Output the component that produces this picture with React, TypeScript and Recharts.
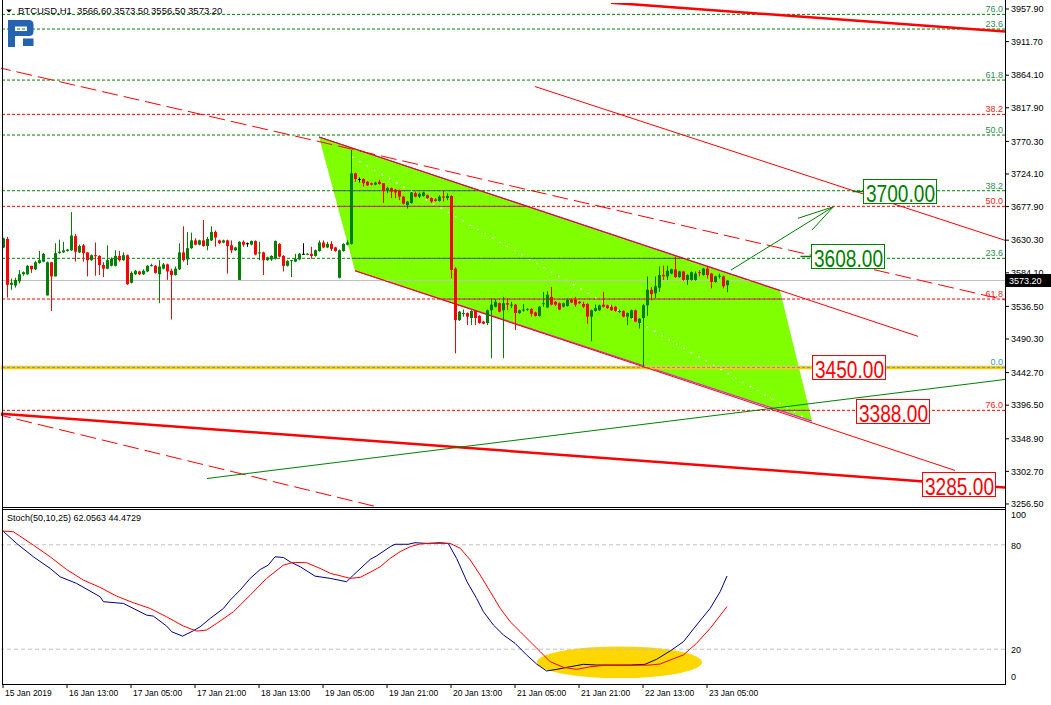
import React from 'react';
import { ComposedChart, Bar, Line, XAxis, YAxis, ReferenceLine, ReferenceArea, ReferenceDot } from 'recharts';

const FONT = '"Liberation Sans", Arial, sans-serif';

// BTCUSD H1, bar 0 = 15 Jan 21:00 ... bar 181 = 23 Jan 10:00
const opens = [
  3620, 3632, 3567, 3566, 3572, 3582, 3582, 3594, 3589, 3598,
  3600, 3552, 3599, 3579, 3612, 3613, 3615, 3616, 3636, 3613,
  3623, 3613, 3602, 3609, 3608, 3595, 3590, 3594, 3594, 3608,
  3602, 3609, 3570, 3582, 3586, 3582, 3586, 3594, 3594, 3582,
  3590, 3596, 3587, 3581, 3589, 3613, 3603, 3619, 3630, 3624,
  3630, 3622, 3630, 3642, 3630, 3627, 3630, 3623, 3616, 3574,
  3628, 3626, 3624, 3629, 3612, 3613, 3602, 3603, 3604, 3625,
  3608, 3594, 3601, 3600, 3603, 3611, 3610, 3611, 3608, 3615,
  3627, 3620, 3625, 3620, 3577, 3615, 3624, 3625, 3725, 3717,
  3717, 3713, 3711, 3709, 3713, 3711, 3701, 3704, 3702, 3701,
  3692, 3680, 3683, 3697, 3692, 3693, 3694, 3690, 3688, 3686,
  3692, 3690, 3693, 3590, 3517, 3526, 3527, 3520, 3530, 3523,
  3515, 3513, 3531, 3536, 3541, 3531, 3541, 3538, 3539, 3527,
  3531, 3532, 3533, 3528, 3523, 3540, 3535, 3550, 3543, 3541,
  3536, 3537, 3546, 3546, 3543, 3540, 3540, 3522, 3530, 3531,
  3539, 3538, 3536, 3536, 3529, 3530, 3522, 3520, 3531, 3513,
  3520, 3538, 3560, 3555, 3563, 3581, 3579, 3583, 3589, 3578,
  3586, 3574, 3574, 3574, 3585, 3581, 3590, 3583, 3571, 3579,
  3579, 3566.6,
];
const highs = [
  3634, 3635, 3576, 3577, 3588, 3586, 3595, 3594, 3601, 3615,
  3612, 3600, 3599, 3626, 3631, 3628, 3618, 3670, 3639, 3624,
  3625, 3613, 3610, 3627, 3609, 3599, 3623, 3606, 3616, 3615,
  3613, 3610, 3586, 3588, 3587, 3589, 3595, 3597, 3595, 3602,
  3598, 3597, 3590, 3593, 3626, 3650, 3642, 3641, 3633, 3631,
  3659, 3635, 3650, 3644, 3631, 3631, 3631, 3630, 3621, 3629,
  3630, 3627, 3630, 3630, 3628, 3614, 3607, 3609, 3630, 3626,
  3609, 3602, 3602, 3611, 3612, 3626, 3612, 3621, 3617, 3630,
  3630, 3628, 3629, 3621, 3617, 3626, 3630, 3758, 3726, 3719,
  3718, 3714, 3712, 3713, 3716, 3711, 3706, 3705, 3703, 3702,
  3693, 3686, 3699, 3699, 3698, 3699, 3695, 3691, 3690, 3694,
  3700, 3697, 3694, 3592, 3530, 3532, 3528, 3531, 3531, 3524,
  3516, 3532, 3548, 3547, 3542, 3550, 3548, 3543, 3540, 3532,
  3540, 3534, 3534, 3529, 3537, 3557, 3558, 3564, 3544, 3542,
  3542, 3548, 3548, 3550, 3544, 3543, 3541, 3532, 3539, 3539,
  3557, 3539, 3539, 3537, 3532, 3531, 3528, 3532, 3532, 3520,
  3540, 3579, 3564, 3579, 3593, 3594, 3594, 3590, 3607, 3587,
  3587, 3582, 3586, 3586, 3588, 3591, 3593, 3584, 3580, 3583,
  3580, 3573.5,
];
const lows = [
  3619, 3549, 3560, 3563, 3569, 3580, 3581, 3584, 3588, 3597,
  3599, 3552, 3530, 3579, 3611, 3612, 3614, 3615, 3600, 3612,
  3600, 3579, 3601, 3580, 3581, 3578, 3589, 3593, 3593, 3600,
  3601, 3567, 3569, 3581, 3581, 3581, 3585, 3593, 3583, 3541,
  3589, 3574, 3518, 3580, 3588, 3600, 3595, 3618, 3623, 3623,
  3621, 3616, 3629, 3621, 3625, 3626, 3583, 3612, 3615, 3574,
  3621, 3621, 3623, 3609, 3602, 3581, 3601, 3601, 3603, 3606,
  3586, 3593, 3578, 3599, 3602, 3610, 3609, 3604, 3607, 3614,
  3619, 3619, 3615, 3614, 3576, 3614, 3623, 3624, 3713, 3712,
  3706, 3707, 3708, 3708, 3709, 3683, 3697, 3690, 3690, 3687,
  3681, 3675, 3682, 3691, 3690, 3692, 3689, 3683, 3685, 3685,
  3685, 3687, 3576, 3470, 3516, 3522, 3510, 3510, 3510, 3512,
  3511, 3510, 3463, 3535, 3528, 3463, 3531, 3534, 3503, 3526,
  3529, 3530, 3522, 3522, 3522, 3536, 3534, 3538, 3537, 3531,
  3535, 3536, 3541, 3536, 3540, 3534, 3512, 3487, 3529, 3530,
  3535, 3533, 3530, 3529, 3527, 3521, 3510, 3519, 3514, 3505,
  3451, 3523, 3545, 3548, 3557, 3574, 3574, 3582, 3577, 3577,
  3573, 3567, 3573, 3573, 3579, 3580, 3576, 3562, 3570, 3576,
  3562, 3556.5,
];
const closes = [
  3633, 3567, 3570, 3574, 3582, 3585, 3594, 3589, 3599, 3602,
  3611, 3599, 3579, 3612, 3614, 3616, 3617, 3637, 3614, 3622,
  3612, 3602, 3609, 3608, 3595, 3590, 3602, 3604, 3608, 3602,
  3609, 3568, 3584, 3587, 3582, 3587, 3594, 3595, 3584, 3593,
  3596, 3586, 3581, 3590, 3613, 3602, 3619, 3630, 3624, 3630,
  3622, 3632, 3642, 3634, 3626, 3630, 3622, 3616, 3620, 3628,
  3624, 3626, 3629, 3610, 3613, 3602, 3606, 3608, 3629, 3607,
  3594, 3601, 3602, 3604, 3611, 3611, 3611, 3608, 3616, 3627,
  3620, 3625, 3618, 3615, 3616, 3625, 3627, 3725, 3717, 3717,
  3711, 3708, 3709, 3712, 3710, 3700, 3704, 3699, 3698, 3692,
  3682, 3685, 3698, 3692, 3696, 3698, 3690, 3685, 3686, 3692,
  3691, 3693, 3588, 3517, 3529, 3527, 3522, 3530, 3520, 3513,
  3512, 3531, 3539, 3543, 3529, 3541, 3539, 3539, 3527, 3531,
  3532, 3533, 3526, 3523, 3536, 3541, 3553, 3539, 3539, 3532,
  3541, 3546, 3542, 3539, 3541, 3536, 3522, 3531, 3534, 3538,
  3536, 3534, 3531, 3530, 3530, 3522, 3527, 3531, 3515, 3519,
  3538, 3560, 3554, 3565, 3581, 3579, 3587, 3589, 3578, 3586,
  3574, 3581, 3585, 3583, 3584, 3590, 3581, 3571, 3579, 3580,
  3565, 3573.2,
];

const candles = opens.map((o, i) => ({ k: i, o, h: highs[i], l: lows[i], c: closes[i] }));

const priceTicks = [3957.9, 3911.7, 3864.1, 3817.9, 3770.3, 3724.1, 3677.9, 3630.3, 3584.1, 3536.5, 3490.3, 3442.7, 3396.5, 3348.9, 3302.7, 3256.5];
const priceDomain = [3250.8, 3966.4];
const barDomain = [-0.5, 250.5];

const dateTicks = [0, 16, 32, 48, 64, 80, 96, 112, 128, 144, 160, 176];
const dateLabels = ['15 Jan 2019', '16 Jan 13:00', '17 Jan 05:00', '17 Jan 21:00', '18 Jan 13:00', '19 Jan 05:00', '19 Jan 21:00', '20 Jan 13:00', '21 Jan 05:00', '21 Jan 21:00', '22 Jan 13:00', '23 Jan 05:00'];

// fibo levels
const greenFibPrices = [3950.3, 3929.5, 3857.2, 3779.3, 3700.4, 3604.6];
const greenFibNames = ['76.0', '23.6', '61.8', '50.0', '38.2', '23.6'];
const redFibPrices = [3808.6, 3678.3, 3546.9, 3389.2];
const redFibNames = ['38.2', '50.0', '61.8', '76.0'];
const zeroLevel = 3450;
const lastPrice = 3573.2;

// drawn objects, points are [bar, price]
const thickTop = [[152, 3966.8], [252, 3925.4]];
const thickBottom = [[-2, 3385], [252, 3279.3]];
const dashUpper = [[-2, 3876], [252, 3543.7]];
const dashLower = [[-2, 3384.2], [99.25, 3244.5]];
const redRay = [[133, 3848], [252, 3627.3]];
const channel = [[79, 3776.5], [194.25, 3559], [202.25, 3374], [88, 3587]];
const channelTopRay = [[79, 3776.5], [228.75, 3494]];
const channelLowRay = [[88, 3587], [238, 3304]];
const midDots = [[87.25, 3748.1], [200.5, 3378.3]];
const greenRay = [[51, 3292.6], [252, 3434]];
const arrowLine = [[182, 3588], [207.6, 3677.7]];
const arrowBarbs = [[198.75, 3661.3], [202.25, 3644.7]];

const greenTagPrices = [3700, 3608];
const greenTagBars = [214.9, 201.9];
const redTagPrices = [3450, 3388, 3285];
const redTagBars = [202.25, 213.25, 229.75];

// Stoch(50,10,25)
const stochMainBars = [0, 3.4, 7.6, 11.8, 14.3, 18.4, 24.3, 25.1, 30.1, 35.9, 37.6, 40.9, 42.2, 44.9, 47.6, 49.3, 51.8, 55.1, 56.8, 59.3, 61.8, 64.3, 66.3, 68, 70.1, 71.8, 74.3, 78, 81.8, 85.9, 87.6, 91.8, 93.4, 96.8, 98, 101.3, 103, 106, 109.3, 111.3, 113.4, 116, 118.4, 120.1, 122.6, 125.1, 128, 130.9, 133.4, 135.9, 138.4, 141.8, 145.1, 148.4, 152.6, 156.8, 160.5, 163.4, 166.8, 170.1, 173.4, 176.8, 179.3, 181];
const stochMainVals = [87.9, 80.8, 73.1, 66.4, 61.6, 57.8, 50.1, 47.3, 46.3, 39.6, 39.0, 33.3, 30.0, 27.5, 30.6, 32.9, 37.7, 43.4, 48.2, 54.0, 60.7, 65.8, 68.3, 73.1, 72.7, 70.2, 67.4, 62.0, 60.7, 58.8, 62.6, 71.6, 73.6, 78.9, 80.3, 80.3, 81.2, 80.8, 81.2, 80.8, 72.2, 58.8, 49.2, 41.6, 33.9, 28.2, 23.4, 16.7, 11.5, 7.5, 8.4, 9.9, 11.3, 10.9, 10.9, 10.9, 11.3, 14.2, 19.0, 24.3, 33.9, 43.5, 53.1, 62.06];
const stochSignalBars = [0, 2.6, 7.6, 11.8, 15.9, 20.1, 24.3, 28.4, 32.6, 36.8, 40.9, 45.1, 48.4, 50.9, 53.4, 57.6, 61.8, 65.9, 70.1, 72.6, 75.9, 79.3, 81.8, 84.3, 86.8, 89.3, 91.8, 94.3, 96.8, 99.3, 101.8, 104.3, 106.8, 111.8, 114.3, 116.8, 119.3, 121.8, 124.3, 126.8, 129.3, 131.8, 134.3, 136.8, 140.1, 143.4, 146.8, 150.1, 156.8, 161.8, 164.3, 166.8, 170.1, 173.4, 176.8, 181];
const stochSignalVals = [87.9, 87.5, 79.8, 73.1, 65.8, 59.7, 55.5, 50.5, 46.7, 43.4, 38.6, 33.3, 30.4, 31.0, 34.8, 41.5, 51.1, 60.7, 68.3, 69.9, 69.7, 66.4, 63.6, 62.2, 60.7, 61.3, 64.2, 67.4, 72.2, 76.1, 78.9, 80.5, 80.8, 80.8, 78.0, 71.3, 62.6, 53.1, 43.5, 35.8, 30.1, 24.3, 18.6, 12.8, 9.6, 8.4, 9.9, 10.7, 10.7, 10.9, 11.5, 13.8, 16.7, 23.4, 32.0, 44.47];
const stochMain = stochMainBars.map((k, i) => ({ k, v: stochMainVals[i] }));
const stochSignal = stochSignalBars.map((k, i) => ({ k, v: stochSignalVals[i] }));
const oversoldBars = [133.5, 174.75];
const oversoldVals = [3.4, 21.6];

const seg = (pts: number[][]) => pts.map(([x, y]) => ({ x, y }));

function Candle(props: any) {
  const { x, y, width, height, payload } = props;
  if (!payload) return null;
  const { o, h, l, c } = payload;
  const top = Math.min(y, y + height);
  const span = Math.abs(height);
  const unit = h > l ? span / (h - l) : 0;
  const at = (v: number) => top + (h - v) * unit;
  const color = c > o ? '#008000' : c < o ? '#FF0000' : '#000000';
  const mid = Math.round(x + width / 2);
  const bTop = at(Math.max(o, c));
  const bH = Math.max(1, at(Math.min(o, c)) - bTop);
  return (
    <g>
      <line x1={mid + 0.5} x2={mid + 0.5} y1={top} y2={top + span} stroke={color} strokeWidth={1} />
      <rect x={mid - 1} y={bTop} width={3} height={bH} fill={color} />
    </g>
  );
}

function ChannelShape(props: any) {
  const { x, y, width, height } = props;
  const ks = channel.map((c) => c[0]);
  const ps = channel.map((c) => c[1]);
  const k0 = Math.min(...ks), k1 = Math.max(...ks);
  const p0 = Math.min(...ps), p1 = Math.max(...ps);
  const px = (k: number) => x + ((k - k0) / (k1 - k0)) * width;
  const py = (p: number) => y + ((p1 - p) / (p1 - p0)) * height;
  const pts = channel.map(([k, p]) => `${px(k)},${py(p)}`).join(' ');
  const levels = [...greenFibPrices, ...redFibPrices];
  return (
    <g>
      <defs>
        <clipPath id="chanClip">
          <polygon points={pts} />
        </clipPath>
      </defs>
      <polygon points={pts} fill="#80FF00" />
      <g clipPath="url(#chanClip)">
        {levels.map((p, i) => (
          <line key={i} x1={x} x2={x + width} y1={py(p)} y2={py(p)} stroke="#8A2BE2" strokeDasharray="3 2" />
        ))}
        <line x1={x} x2={x + width} y1={py(lastPrice)} y2={py(lastPrice)} stroke="#C0C0C0" />
        <line x1={x} x2={x + width} y1={py(zeroLevel)} y2={py(zeroLevel)} stroke="#87CEFA" strokeWidth={3.5} />
        <line x1={x} x2={x + width} y1={py(zeroLevel)} y2={py(zeroLevel)} stroke="#5B9BD5" strokeDasharray="3 2" />
        <line x1={px(midDots[0][0])} y1={py(midDots[0][1])} x2={px(midDots[1][0])} y2={py(midDots[1][1])} stroke="#FFFFFF" strokeWidth={1.5} strokeDasharray="1.5 7" />
      </g>
      <line x1={px(channel[0][0])} y1={py(channel[0][1])} x2={px(channel[1][0])} y2={py(channel[1][1])} stroke="#8A2BE2" strokeWidth={1.2} />
      <line x1={px(channel[3][0])} y1={py(channel[3][1])} x2={px(channel[2][0])} y2={py(channel[2][1])} stroke="#C030C0" strokeWidth={1.2} />
    </g>
  );
}

const fibText = (text: string, color: string) => (p: any) => (
  <text x={p.cx} y={p.cy - 2} textAnchor="end" fontSize={9} fontFamily={FONT} fill={color}>{text}</text>
);

const priceBox = (text: string, color: string, lead: boolean) => (p: any) => {
  const bx = Math.round(p.cx) + 0.5;
  const by = Math.round(p.cy - 12) + 0.5;
  return (
    <g>
      {lead && <line x1={bx - 11} x2={bx} y1={by + 12} y2={by + 12} stroke={color} strokeWidth={1.5} />}
      <rect x={bx} y={by} width={73} height={24} fill="#FFFFFF" stroke={color} />
      <text x={bx + 37} y={by + 22} textAnchor="middle" fontSize={24} fontFamily={FONT} fill={color} textLength={69} lengthAdjust="spacingAndGlyphs">{text}</text>
    </g>
  );
};

const lastTag = (p: any) => {
  const bx = 1006;
  const by = Math.round(p.cy - 6);
  return (
    <g>
      <rect x={bx} y={by} width={45} height={13} fill="#000000" />
      <text x={bx + 3} y={by + 10} fontSize={9} fontFamily={FONT} fill="#FFFFFF">{lastPrice.toFixed(2)}</text>
    </g>
  );
};

function DateTick(props: any) {
  const { x, y, payload } = props;
  const idx = dateTicks.indexOf(payload.value);
  return (
    <text x={x + 2} y={y} dy="0.71em" fontSize={8.5} fontFamily={FONT} fill="#000">{dateLabels[idx]}</text>
  );
}

function StochTick(props: any) {
  const { x, y, payload } = props;
  const v = payload.value;
  const dy = v === 100 ? 5 : v === 0 ? -7 : 1;
  return (
    <text x={x} y={y + dy} dy="0.355em" fontSize={9} fontFamily={FONT} fill="#000">{v}</text>
  );
}

export default function App() {
  return (
    <div style={{ position: 'absolute', left: 0, top: 0, width: 1051, height: 705, background: '#FFFFFF', overflow: 'hidden' }}>
      {/* objects layer */}
      <div style={{ position: 'absolute', left: 0, top: 0 }}>
        <ComposedChart width={1051} height={508} data={candles} margin={{ top: 3, right: 0, bottom: 0, left: 1 }}>
          <XAxis dataKey="k" type="number" domain={barDomain} allowDataOverflow hide />
          <YAxis
            orientation="right"
            type="number"
            domain={priceDomain}
            allowDataOverflow
            ticks={priceTicks}
            interval={0}
            width={46}
            axisLine={false}
            tickLine={{ stroke: '#000' }}
            tickSize={4}
            tick={{ fontSize: 9, fontFamily: FONT, fill: '#000' }}
            tickFormatter={(v: number) => v.toFixed(2)}
          />
          {greenFibPrices.map((p, i) => (
            <ReferenceLine key={'g' + i} y={p} stroke="#008000" strokeDasharray="3 2" ifOverflow="hidden" />
          ))}
          {redFibPrices.map((p, i) => (
            <ReferenceLine key={'r' + i} y={p} stroke="#FF0000" strokeDasharray="3 2" ifOverflow="hidden" />
          ))}
          <ReferenceLine y={lastPrice} stroke="#C0C0C0" />
          <ReferenceLine y={zeroLevel} stroke="#FFCC00" strokeWidth={3.5} />
          <ReferenceLine y={zeroLevel} stroke="#5B9BD5" strokeDasharray="3 2" />
          <ReferenceLine segment={seg(thickTop)} stroke="#FF0000" strokeWidth={2.5} ifOverflow="hidden" />
          <ReferenceLine segment={seg(thickBottom)} stroke="#FF0000" strokeWidth={2.5} ifOverflow="hidden" />
          <ReferenceLine segment={seg(dashUpper)} stroke="#FF0000" strokeDasharray="16 6" ifOverflow="hidden" />
          <ReferenceLine segment={seg(dashLower)} stroke="#FF0000" strokeDasharray="16 6" ifOverflow="hidden" />
          <ReferenceLine segment={seg(redRay)} stroke="#FF0000" ifOverflow="hidden" />
          <ReferenceLine segment={seg(channelTopRay)} stroke="#FF0000" ifOverflow="hidden" />
          <ReferenceLine segment={seg(channelLowRay)} stroke="#FF0000" ifOverflow="hidden" />
          <ReferenceLine segment={seg(greenRay)} stroke="#008000" ifOverflow="hidden" />
          <ReferenceArea
            x1={Math.min(...channel.map((c) => c[0]))}
            x2={Math.max(...channel.map((c) => c[0]))}
            y1={Math.min(...channel.map((c) => c[1]))}
            y2={Math.max(...channel.map((c) => c[1]))}
            ifOverflow="visible"
            shape={ChannelShape}
          />
          <ReferenceLine segment={seg(arrowLine)} stroke="#008000" ifOverflow="hidden" />
          {arrowBarbs.map((b, i) => (
            <ReferenceLine key={'b' + i} segment={seg([arrowLine[1], b])} stroke="#008000" ifOverflow="hidden" />
          ))}
          {greenFibPrices.map((p, i) => (
            <ReferenceDot key={'gl' + i} x={250} y={p} r={0} shape={fibText(greenFibNames[i], '#2E8B57')} />
          ))}
          {redFibPrices.map((p, i) => (
            <ReferenceDot key={'rl' + i} x={250} y={p} r={0} shape={fibText(redFibNames[i], '#FF2020')} />
          ))}
          <ReferenceDot x={250} y={zeroLevel} r={0} shape={fibText('0.0', '#3A9AB8')} />
          {greenTagPrices.map((p, i) => (
            <ReferenceDot key={'gt' + i} x={greenTagBars[i]} y={p} r={0} shape={priceBox(p.toFixed(2), '#008000', true)} />
          ))}
          {redTagPrices.map((p, i) => (
            <ReferenceDot key={'rt' + i} x={redTagBars[i]} y={p} r={0} shape={priceBox(p.toFixed(2), '#FF0000', false)} />
          ))}
        </ComposedChart>
      </div>

      {/* candles layer */}
      <div style={{ position: 'absolute', left: 0, top: 0 }}>
        <ComposedChart width={1051} height={508} data={candles} margin={{ top: 3, right: 46, bottom: 0, left: 1 }}>
          <XAxis dataKey="k" type="number" domain={barDomain} allowDataOverflow hide />
          <YAxis type="number" domain={priceDomain} allowDataOverflow hide />
          <Bar dataKey={(d: any) => [d.l, d.h]} barSize={4} shape={(p: any) => <Candle {...p} />} isAnimationActive={false} />
          <ReferenceDot x={250.4} y={lastPrice} r={0} shape={lastTag} />
        </ComposedChart>
      </div>

      {/* stochastic window */}
      <div style={{ position: 'absolute', left: 0, top: 500 }}>
        <ComposedChart width={1051} height={205} margin={{ top: 10, right: 0, bottom: 0, left: 1 }}>
          <XAxis
            dataKey="k"
            type="number"
            domain={barDomain}
            allowDataOverflow
            ticks={dateTicks}
            interval={0}
            height={21}
            axisLine={false}
            tickLine={{ stroke: '#000' }}
            tickSize={4}
            tick={<DateTick />}
          />
          <YAxis
            orientation="right"
            type="number"
            domain={[0, 100]}
            allowDataOverflow
            ticks={[0, 20, 80, 100]}
            interval={0}
            width={46}
            axisLine={false}
            tickLine={false}
            tickSize={4}
            tick={<StochTick />}
          />
          <ReferenceArea
            x1={oversoldBars[0]}
            x2={oversoldBars[1]}
            y1={oversoldVals[0]}
            y2={oversoldVals[1]}
            ifOverflow="visible"
            shape={(p: any) => (
              <ellipse cx={p.x + p.width / 2} cy={p.y + p.height / 2} rx={p.width / 2} ry={p.height / 2} fill="#FFD700" />
            )}
          />
          <ReferenceLine y={80} stroke="#C0C0C0" strokeDasharray="4 3" />
          <ReferenceLine y={20} stroke="#C0C0C0" strokeDasharray="4 3" />
          <Line data={stochMain} dataKey="v" type="linear" stroke="#000080" strokeWidth={1} dot={false} isAnimationActive={false} />
          <Line data={stochSignal} dataKey="v" type="linear" stroke="#FF0000" strokeWidth={1} dot={false} isAnimationActive={false} />
        </ComposedChart>
      </div>

      {/* window frame, title, logo */}
      <svg width={1051} height={705} style={{ position: 'absolute', left: 0, top: 0, pointerEvents: 'none' }}>
        <g stroke="#000" strokeWidth={1} shapeRendering="crispEdges">
          <line x1={2.5} y1={0} x2={2.5} y2={685} />
          <line x1={1005.5} y1={0} x2={1005.5} y2={685} />
          <line x1={2} y1={507.5} x2={1006} y2={507.5} />
          <line x1={2} y1={509.5} x2={1006} y2={509.5} />
          <line x1={2} y1={684.5} x2={1006} y2={684.5} />
        </g>
        <polygon points="6,9.5 12,9.5 9,12.5" fill="#000" />
        <text x={18} y={13.5} fontSize={9.5} fontFamily={FONT} fill="#000" xmlSpace="preserve">BTCUSD,H1  3566.60 3573.50 3556.50 3573.20</text>
        <path d="M8,20 H29 Q33.5,20 33.5,24.5 V31.5 Q33.5,36 29,36 H15 V47 H8 Z M15,26.5 V31 H27 V26.5 Z" fill="#2563B0" fillRule="evenodd" />
        <rect x={23} y={38.5} width={10.5} height={7.5} fill="#2563B0" />
        <text x={7} y={521} fontSize={9} fontFamily={FONT} fill="#000">Stoch(50,10,25) 62.0563 44.4729</text>
      </svg>
    </div>
  );
}
